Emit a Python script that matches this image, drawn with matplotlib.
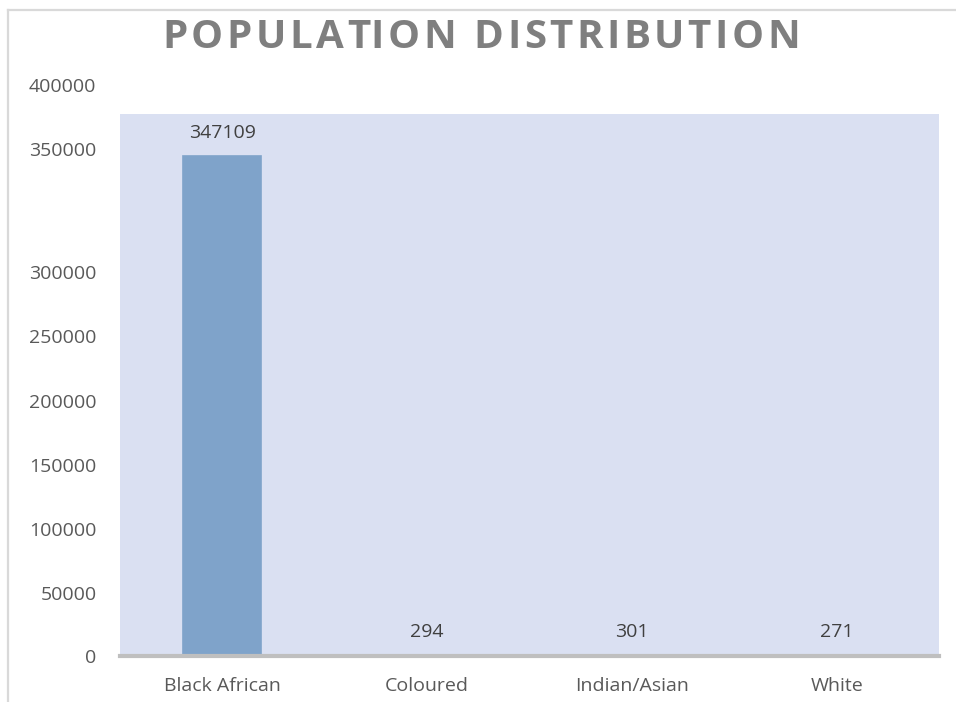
import numpy as np
import matplotlib
matplotlib.use("Agg")
import matplotlib.pyplot as plt
from matplotlib.scale import FuncScale
from matplotlib.lines import Line2D
from matplotlib.patches import Rectangle

# ---- data ----
categories = ["Black African", "Coloured", "Indian/Asian", "White"]
population = [347109, 294, 301, 271]
tick_values = [0, 50000, 100000, 150000, 200000, 250000, 300000, 350000, 400000]
title_text = "POPULATION DISTRIBUTION"

plt.rcParams["font.family"] = ["Open Sans", "DejaVu Sans"]
plt.rcParams["hatch.linewidth"] = 0.9

W, H = 956, 702
fig = plt.figure(figsize=(W / 100, H / 100), dpi=100)

# axes frame (pixel geometry of the plotting region)
ax_left, ax_right, ax_bottom, ax_top = 120, 939, 656, 85
ax = fig.add_axes([ax_left / W, 1 - ax_bottom / H,
                   (ax_right - ax_left) / W, (ax_bottom - ax_top) / H])

# uneven value axis: each labelled tick sits at its own height
tick_heights = [0, 63, 127, 191, 255, 320, 384, 507, 571]

def fwd(v):
    return np.interp(v, tick_values, tick_heights)

def inv(h):
    return np.interp(h, tick_heights, tick_values)

ax.set_yscale(FuncScale(ax, (fwd, inv)))
ax.set_ylim(tick_values[0], tick_values[-1])
ax.set_xlim(-0.5, len(categories) - 0.5)
ax.patch.set_alpha(0)

# lavender plot area
plot_top_px = 114
ax.add_patch(Rectangle((0, 0), 1, (ax_bottom - plot_top_px) / (ax_bottom - ax_top),
                       transform=ax.transAxes, facecolor="#dae0f2",
                       edgecolor="none", zorder=0))

x = np.arange(len(categories))
bars = ax.bar(x, population, width=0.38, color="#b3d5f4", edgecolor="#7fa3ca",
              linewidth=1.2, hatch="-" * 20, zorder=2)

for xi, v in zip(x, population):
    ax.annotate(f"{v}", (xi, v), xytext=(0, 17), textcoords="offset points",
                ha="center", va="center", fontsize=14, color="#404040")

ax.set_yticks(tick_values)
ax.set_yticklabels([str(v) for v in tick_values])
ax.set_xticks(x)
ax.set_xticklabels(categories)
ax.tick_params(axis="y", length=0, pad=17, labelsize=14, labelcolor="#595959")
ax.tick_params(axis="x", length=0, pad=15, labelsize=14, labelcolor="#595959")
for side in ["left", "right", "top"]:
    ax.spines[side].set_visible(False)
ax.spines["bottom"].set_color("#bfbfbf")
ax.spines["bottom"].set_linewidth(3)
ax.spines["bottom"].set_zorder(3)

# outer frame lines
fig.add_artist(Line2D([7.5 / W, 1], [1 - 9.5 / H, 1 - 9.5 / H],
                      transform=fig.transFigure, color="#d9d9d9", lw=1.6))
fig.add_artist(Line2D([7.5 / W, 7.5 / W], [0, 1 - 9.5 / H],
                      transform=fig.transFigure, color="#d9d9d9", lw=1.6))

# letter-spaced title
renderer = fig.canvas.get_renderer()
title_kw = dict(fontsize=29, fontweight="bold", color="#7f7f7f")
tracking = 3.5
probe = fig.text(0, 0, "", **title_kw)

def width_of(s):
    probe.set_text(s + "|")
    w1 = probe.get_window_extent(renderer).width
    probe.set_text("|")
    w0 = probe.get_window_extent(renderer).width
    return w1 - w0

offsets = [width_of(title_text[:i]) + i * tracking for i in range(len(title_text))]
total = width_of(title_text) + (len(title_text) - 1) * tracking
probe.remove()
x0 = 481 - total / 2
for ch, off in zip(title_text, offsets):
    if ch != " ":
        fig.text((x0 + off) / W, 1 - 37 / H, ch, ha="left", va="center", **title_kw)

fig.savefig("out.png", dpi=100)
